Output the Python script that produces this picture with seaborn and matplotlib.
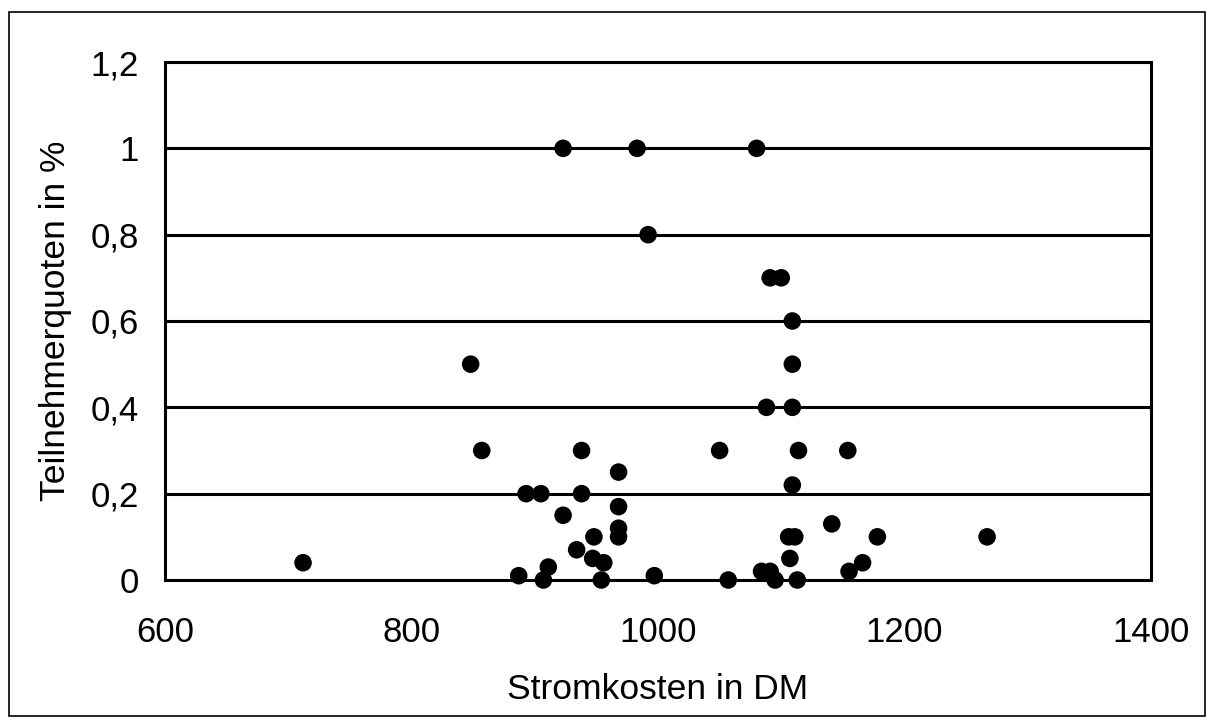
import matplotlib
matplotlib.use('Agg')
import matplotlib.pyplot as plt
from matplotlib.patches import Rectangle
from matplotlib.ticker import FuncFormatter
import seaborn as sns
import pandas as pd

# Stromkosten (DM) vs. Teilnehmerquote
stromkosten = [712, 848, 857, 887, 893, 905, 907, 911, 923, 923,
               934, 938, 938, 947, 948, 954, 956, 968, 968, 968,
               968, 983, 992, 997, 1050, 1057, 1080, 1084, 1088, 1091,
               1091, 1095, 1100, 1106, 1107, 1109, 1109, 1109, 1109, 1111,
               1113, 1114, 1141, 1154, 1155, 1166, 1178, 1267]
quote = [0.04, 0.5, 0.3, 0.01, 0.2, 0.2, 0.0, 0.03, 0.15, 1.0,
         0.07, 0.3, 0.2, 0.05, 0.1, 0.0, 0.04, 0.25, 0.17, 0.12,
         0.1, 1.0, 0.8, 0.01, 0.3, 0.0, 1.0, 0.02, 0.4, 0.7,
         0.02, 0.0, 0.7, 0.1, 0.05, 0.6, 0.5, 0.4, 0.22, 0.1,
         0.0, 0.3, 0.13, 0.3, 0.02, 0.04, 0.1, 0.1]

x_ticks = [600, 800, 1000, 1200, 1400]
y_ticks = [0, 0.2, 0.4, 0.6, 0.8, 1.0, 1.2]

df = pd.DataFrame({'Stromkosten': stromkosten, 'Quote': quote})

sns.set_style('white')
plt.rcParams['font.family'] = ['Liberation Sans', 'DejaVu Sans']
plt.rcParams['text.color'] = 'black'
plt.rcParams['axes.labelcolor'] = 'black'
plt.rcParams['xtick.color'] = 'black'
plt.rcParams['ytick.color'] = 'black'

fig = plt.figure(figsize=(12.14, 7.26), dpi=100)
ax = fig.add_axes([165 / 1214, 1 - 580 / 726, (1151 - 165) / 1214, (580 - 62) / 726])

# horizontal gridlines like the original
for yv in y_ticks[1:]:
    ax.axhline(yv, color='black', lw=2.2, zorder=1)

sns.scatterplot(data=df, x='Stromkosten', y='Quote', ax=ax, color='black',
                s=160, edgecolor='none', zorder=3, clip_on=False)

ax.set_xlim(600, 1400)
ax.set_ylim(0, 1.2)
ax.set_xticks(x_ticks)
ax.set_yticks(y_ticks)
ax.yaxis.set_major_formatter(FuncFormatter(lambda v, p: ('%g' % round(v, 1)).replace('.', ',')))

for s in ax.spines.values():
    s.set_color('black')
    s.set_linewidth(2.2)
ax.tick_params(axis='x', direction='out', length=8, width=2.2, labelsize=25, pad=18)
ax.tick_params(axis='y', direction='out', length=8, width=2.2, labelsize=25, pad=11)

ax.set_xlabel('Stromkosten in DM', fontsize=25.5, labelpad=17)
ax.set_ylabel('Teilnehmerquoten in %', fontsize=25.5, labelpad=13)

# outer frame around the whole chart
fig.patches.append(Rectangle((9 / 1214, 1 - 716 / 726), (1205 - 9) / 1214, (716 - 12) / 726,
                             transform=fig.transFigure, fill=False, edgecolor='black', lw=1.2))

fig.savefig('out.png', dpi=100)
